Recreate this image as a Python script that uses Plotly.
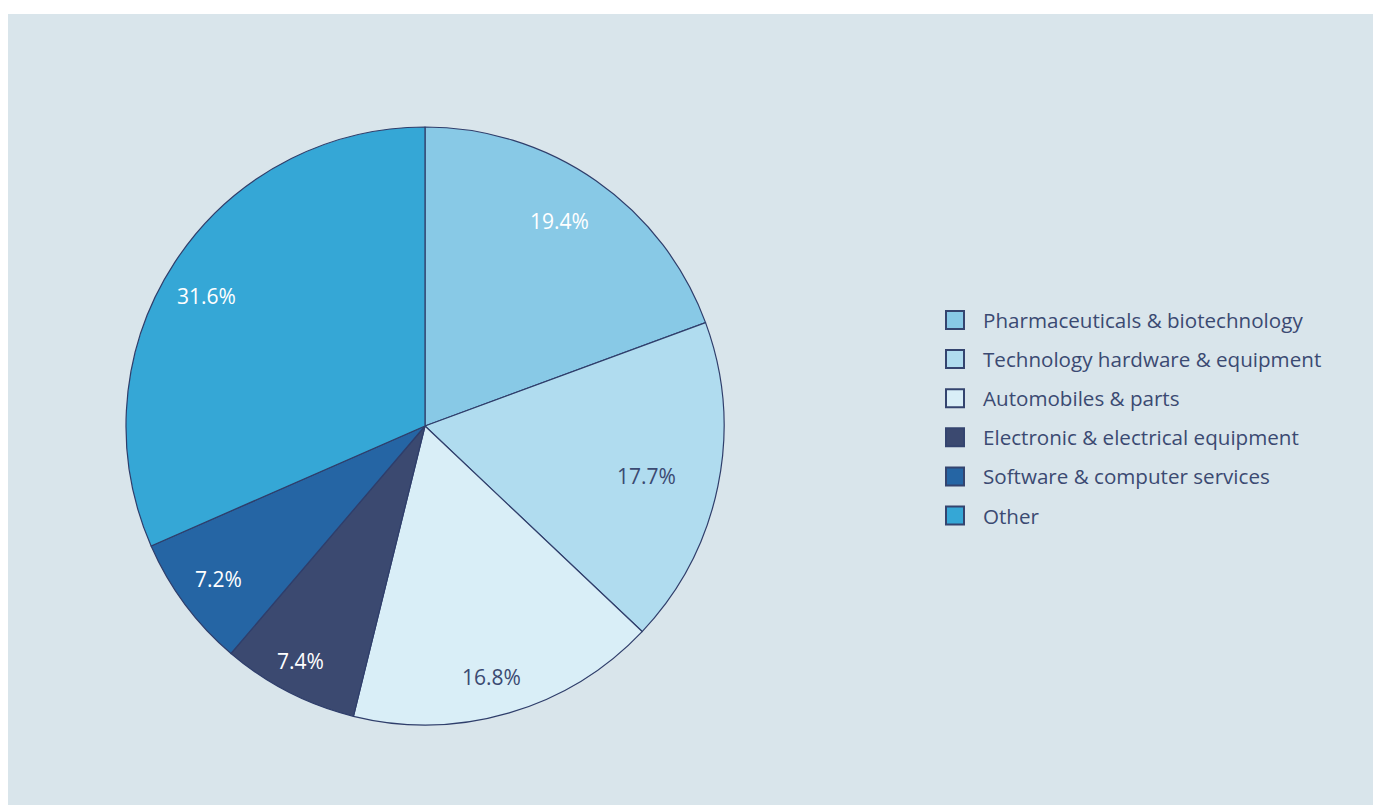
import math
import plotly.graph_objects as go

# Sector shares (%)
categories = [
    "Pharmaceuticals & biotechnology",
    "Technology hardware & equipment",
    "Automobiles & parts",
    "Electronic & electrical equipment",
    "Software & computer services",
    "Other",
]
shares = [19.4, 17.7, 16.8, 7.4, 7.2, 31.6]

# Styling
slice_colors = ["#88c9e6", "#b0dcef", "#d9eef7", "#3b4970", "#2565a4", "#35a7d6"]
label_colors = ["#ffffff", "#3b4a72", "#3b4a72", "#ffffff", "#ffffff", "#ffffff"]
label_radius = [0.82, 0.76, 0.87, 0.89, 0.86, 0.85]
label_turn = [-1.5, 1.0, 1.5, 0.7, 0.0, -2.5]  # small angular nudges, degrees
edge_color = "#2f3e6b"
text_color = "#3b4a72"
bg_color = "#d9e5eb"
font_family = "Open Sans"

W, H = 1373, 805
cx, cy, R = 425, 426, 299  # pie centre and radius in pixels

fig = go.Figure(
    go.Pie(
        labels=categories,
        values=shares,
        sort=False,
        direction="clockwise",
        rotation=0,
        marker=dict(colors=slice_colors, line=dict(color=edge_color, width=1.2)),
        textinfo="none",
        hoverinfo="label+percent",
        showlegend=False,
        domain=dict(x=[(cx - R) / W, (cx + R) / W], y=[1 - (cy + R) / H, 1 - (cy - R) / H]),
    )
)

shapes = [
    # panel background with white strips at top and left
    dict(type="rect", xref="paper", yref="paper", x0=8 / W, x1=1, y0=0, y1=1 - 14 / H,
         fillcolor=bg_color, line=dict(width=0), layer="below"),
]
annotations = []

# Percentage labels placed along each slice's mid-angle
total = sum(shares)
cum = 0.0
for val, col, rf, turn in zip(shares, label_colors, label_radius, label_turn):
    mid = (cum + val / 2) / total * 2 * math.pi + math.radians(turn)
    cum += val
    px = cx + R * rf * math.sin(mid)
    py = cy - R * rf * math.cos(mid)
    annotations.append(dict(
        x=px / W, y=1 - py / H, xref="paper", yref="paper",
        text=f"{val:.1f}%", showarrow=False,
        font=dict(family=font_family, size=21, color=col),
        xanchor="center", yanchor="middle",
    ))

# Legend: square swatches with text
lx, ly0, dy, sq = 946, 320, 39.1, 18
for i, (name, col) in enumerate(zip(categories, slice_colors)):
    yc = ly0 + i * dy
    shapes.append(dict(
        type="rect", xref="paper", yref="paper",
        x0=lx / W, x1=(lx + sq) / W, y0=1 - (yc + sq / 2) / H, y1=1 - (yc - sq / 2) / H,
        fillcolor=col, line=dict(color="#34446f", width=2), layer="above",
    ))
    annotations.append(dict(
        x=981 / W, y=1 - yc / H, xref="paper", yref="paper",
        text=name, showarrow=False,
        font=dict(family=font_family, size=20.6, color=text_color),
        xanchor="left", yanchor="middle",
    ))

fig.update_layout(
    width=W, height=H,
    margin=dict(l=0, r=0, t=0, b=0),
    paper_bgcolor="#ffffff",
    shapes=shapes,
    annotations=annotations,
)

fig.write_html("out.html")
